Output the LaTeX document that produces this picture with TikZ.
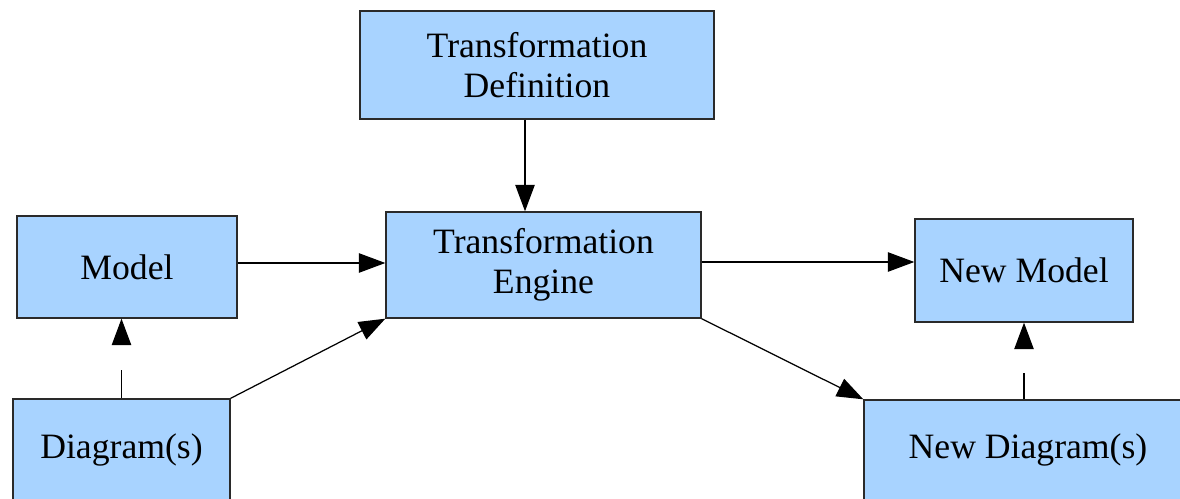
\documentclass[tikz,border=0pt]{standalone}
\usepackage{fontspec}
\setmainfont{Liberation Serif}
\usetikzlibrary{arrows.meta,positioning}
\definecolor{boxblue}{HTML}{A8D3FF}
\definecolor{edge}{HTML}{2A2A2A}

\begin{document}
\begin{tikzpicture}[x=0.02cm,y=-0.02cm,
  box/.style={draw=edge,fill=boxblue,line width=0.8pt,inner sep=0pt,align=center,
    font=\fontsize{20.3}{22.7}\selectfont},
  link/.style={-{Triangle[length=15pt,width=11pt]},line width=0.7pt}]

  \useasboundingbox (0,0) rectangle (1180,499);
  \clip (0,0) rectangle (1180,499);

  % Engine and its definition
  \node[box,minimum width=7.08cm,minimum height=2.16cm] (tdef) at (537,65) {Transformation\\Definition};
  \node[box,minimum width=6.3cm,minimum height=2.12cm] (engine) at (543.5,265) {Transformation\\Engine};
  \draw[link] (tdef.south -| 525,0) -- (engine.north -| 525,0);

  % Source side
  \node[box,minimum width=4.4cm,minimum height=2.04cm] (model) at (127,267) {Model};
  \node[box,minimum width=4.34cm,minimum height=2.04cm] (diag) at (121.5,450) {Diagram(s)};
  \draw[link] (model.east |- 0,263) -- (engine.west |- 0,263);
  \draw[link] (diag.north east) -- (engine.south west);
  \draw[link,dash pattern=on 16pt off 60pt] (diag.north) -- (model.south -| diag.north);

  % Target side
  \node[box,minimum width=4.36cm,minimum height=2.06cm] (newmodel) at (1024,270.5) {New Model};
  \node[box,minimum width=6.56cm,minimum height=2.0cm] (newdiag) at (1028,450) {New Diagram(s)};
  \draw[link] (engine.east |- 0,262) -- (newmodel.west |- 0,262);
  \draw[link] (engine.south east) -- (newdiag.north west);
  \draw[link,dash pattern=on 15pt off 60pt] (newdiag.north -| newmodel.south) -- (newmodel.south);
\end{tikzpicture}
\end{document}
